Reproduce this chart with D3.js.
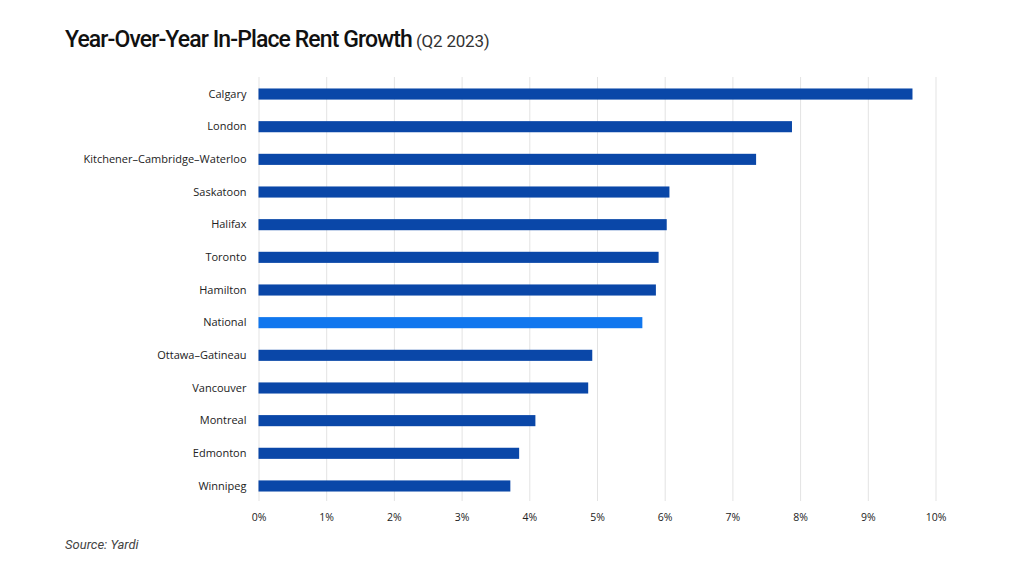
<!DOCTYPE html>
<html>
<head>
	<meta charset="UTF-8" />
	<title>rent growth</title>
	<script src="https://d3js.org/d3.v7.min.js"></script>
	<style type="text/css">
		body{margin:0; background:#fff;}
		.bar{fill: #0a47a8;}
		.bar.national{fill: #1177ee;}
		.grid line{stroke: #e3e3e3;}
		.tick text{font-family: "Open Sans", sans-serif; font-size: 10.5px; fill: #222;}
		.ylab .tick text{font-size: 11px;}
	</style>
</head>
<body>
	<svg id="chart" style="width:1024px; height:564px"></svg>

	<script type="text/javascript">
	// data
	var cities = ["Calgary", "London", "Kitchener\u2013Cambridge\u2013Waterloo", "Saskatoon", "Halifax", "Toronto",
		"Hamilton", "National", "Ottawa\u2013Gatineau", "Vancouver", "Montreal", "Edmonton", "Winnipeg"]
	var growth = [9.66, 7.88, 7.35, 6.07, 6.03, 5.91, 5.87, 5.67, 4.93, 4.87, 4.09, 3.85, 3.72]
	var xTicks = [0, 1, 2, 3, 4, 5, 6, 7, 8, 9, 10]

	var data = cities.map((c, i) => ({city: c, value: growth[i]}))

	var w = 1024
	var h = 564
	var svg = d3.select("#chart").attr("width", w).attr("height", h)

	var xScale = d3.scaleLinear().domain([0, 10]).range([258.5, 935.5])
	var yScale = d3.scaleBand().domain(cities).range([77.7, 502.3])
					.paddingInner(0.66).paddingOuter(0.33)

	// gridlines
	svg.append("g")
		.attr("class", "grid")
		.attr("transform", "translate(0,501)")
		.call(d3.axisBottom(xScale).tickValues(xTicks).tickSize(-424).tickFormat(""))
		.call(g => g.select(".domain").remove())

	// bars
	svg.selectAll(".bar")
		.data(data)
		.enter()
		.append("rect")
		.attr("class", d => d.city == "National" ? "bar national" : "bar")
		.attr("x", xScale(0))
		.attr("y", d => yScale(d.city))
		.attr("width", d => xScale(d.value) - xScale(0))
		.attr("height", yScale.bandwidth())

	// x axis labels
	svg.append("g")
		.attr("transform", "translate(0,506)")
		.call(d3.axisBottom(xScale).tickValues(xTicks).tickSize(0).tickPadding(8).tickFormat(d => d + "%"))
		.call(g => g.select(".domain").remove())

	// y axis labels
	svg.append("g")
		.attr("class", "ylab")
		.attr("transform", "translate(258.5,0)")
		.call(d3.axisLeft(yScale).tickSize(0).tickPadding(12))
		.call(g => g.select(".domain").remove())

	// title
	var title = svg.append("text")
		.attr("x", 65)
		.attr("y", 47)
		.style("font-family", "Roboto, sans-serif")
		.style("fill", "#111")
	title.append("tspan")
		.style("font-size", "23px")
		.style("font-weight", "500")
		.style("letter-spacing", "-0.9px")
		.text("Year-Over-Year In-Place Rent Growth")
	title.append("tspan")
		.style("font-size", "17px")
		.style("letter-spacing", "-0.2px")
		.style("fill", "#333")
		.text(" (Q2 2023)")

	// source
	svg.append("text")
		.attr("x", 65)
		.attr("y", 549)
		.style("font-family", "Roboto, sans-serif")
		.style("font-style", "italic")
		.style("font-size", "13px")
		.style("fill", "#444")
		.text("Source: Yardi")
	</script>
</body>
</html>
